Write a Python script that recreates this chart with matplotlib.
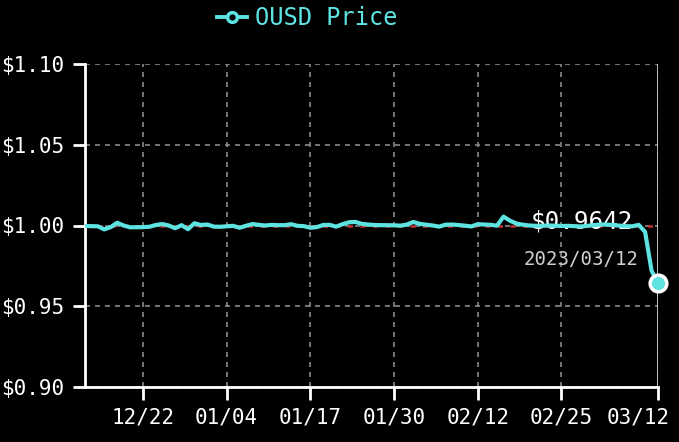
import matplotlib
matplotlib.use("Agg")
import matplotlib.pyplot as plt
import matplotlib.dates as mdates
import matplotlib.transforms as mtransforms
from matplotlib.lines import Line2D
import numpy as np
import pandas as pd

start_date = "2022-12-13"
end_date = "2023-03-12"
prices = [
    0.9997, 0.9996, 0.9995, 0.9976, 0.9990, 1.0017, 1.0000, 0.9989, 0.9989, 0.9990,
    0.9992, 1.0003, 1.0009, 1.0000, 0.9983, 1.0002, 0.9977, 1.0014, 1.0003, 1.0006,
    0.9993, 0.9992, 0.9995, 0.9998, 0.9986, 0.9998, 1.0009, 1.0004, 1.0000, 1.0004,
    1.0002, 1.0002, 1.0008, 0.9998, 0.9996, 0.9986, 0.9990, 1.0003, 1.0004, 0.9993,
    1.0008, 1.0020, 1.0022, 1.0010, 1.0006, 1.0003, 1.0002, 1.0002, 1.0001, 0.9999,
    1.0006, 1.0022, 1.0010, 1.0005, 1.0000, 0.9993, 1.0005, 1.0006, 1.0003, 0.9999,
    0.9994, 1.0008, 1.0006, 1.0004, 0.9999, 1.0055, 1.0030, 1.0012, 1.0005, 1.0000,
    0.9998, 0.9998, 1.0000, 0.9999, 0.9997, 0.9998, 0.9996, 0.9994, 0.9998, 1.0002,
    1.0006, 1.0006, 1.0003, 0.9999, 0.9996, 0.9995, 1.0004, 0.9960, 0.9720, 0.9642,
]
dates = pd.date_range(start_date, end_date, freq="D")
x_tick_dates = ["2022-12-22", "2023-01-04", "2023-01-17", "2023-01-30",
                "2023-02-12", "2023-02-25", "2023-03-12"]
y_ticks = [0.90, 0.95, 1.00, 1.05, 1.10]
series_name = "OUSD Price"
peg = 1.00

CYAN = "#5ee3e3"
FONT = "DejaVu Sans Mono"

plt.rcParams["font.family"] = FONT
fig = plt.figure(figsize=(6.79, 4.42), dpi=100, facecolor="black")
ax = fig.add_axes([85/679, 1-387/442, (658-85)/679, (387-64)/442])
ax.set_facecolor("black")

ax.plot(dates, prices, color=CYAN, lw=3.0, solid_joinstyle="round", zorder=4)
ax.plot(dates[-1:], prices[-1:], ls="none", marker="o", ms=12, mfc=CYAN,
        mec="white", mew=2.5, zorder=5, clip_on=False)
ax.axhline(peg, color="#c03030", lw=1.8, ls=(0, (2, 3)), zorder=3)

xmin, xmax = pd.Timestamp(start_date), pd.Timestamp(end_date)
ax.set_xlim(xmin, xmax)
ax.set_ylim(y_ticks[0], y_ticks[-1])
ax.axvline(xmax, color="#cccccc", lw=2, zorder=2)

ax.set_yticks(y_ticks)
ax.set_yticklabels([f"${v:.2f}" for v in y_ticks])
ax.set_xticks(pd.to_datetime(x_tick_dates))
ax.xaxis.set_major_formatter(mdates.DateFormatter("%m/%d"))

ax.grid(True, color="#8a8a8a", lw=1.2, ls=(0, (3, 3)))
for s in ["top", "right"]:
    ax.spines[s].set_visible(False)
for s in ["left", "bottom"]:
    ax.spines[s].set_color("white")
    ax.spines[s].set_linewidth(2)
ax.tick_params(colors="white", labelsize=15, length=9, width=2, pad=6)

fig.canvas.draw()
last_lbl = ax.get_xticklabels()[-1]
last_lbl.set_transform(last_lbl.get_transform() +
                       mtransforms.ScaledTranslation(-20/100, 0, fig.dpi_scale_trans))

last_val = prices[-1]
ax.annotate(f"${last_val:.4f}", xy=(dates[-1], last_val), xytext=(-55, 36),
            textcoords="offset points", ha="center", va="bottom",
            color="white", fontsize=17.5, family=FONT)
ax.annotate(dates[-1].strftime("%Y/%m/%d"), xy=(dates[-1], last_val), xytext=(-55.4, 10.4),
            textcoords="offset points", ha="center", va="bottom",
            color="#d0d0d0", fontsize=13.7, family=FONT)

handle = Line2D([], [], color=CYAN, lw=2.8, marker="o", ms=7, mfc="black",
                mec=CYAN, mew=2.5)
leg = fig.legend([handle], [series_name], loc="center", bbox_to_anchor=(0.452, 0.959),
                 frameon=False, fontsize=17, handlelength=1.3, handletextpad=0.3)
for t in leg.get_texts():
    t.set_color(CYAN)

fig.savefig("out.png", dpi=100, facecolor="black")
